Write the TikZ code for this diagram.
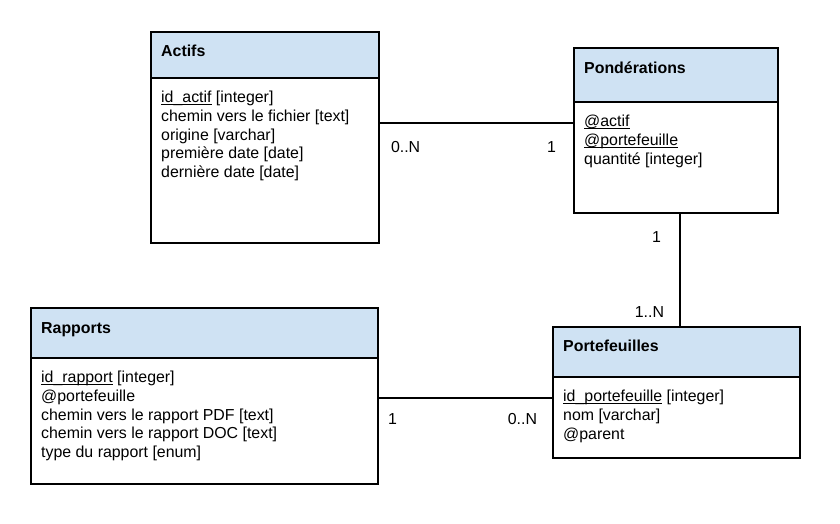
\documentclass[tikz,border=0pt]{standalone}
\usepackage{fontspec}
\setmainfont{Liberation Sans}
\usepackage{tikz}
\usetikzlibrary{positioning,calc}
\definecolor{headblue}{HTML}{CFE2F3}
\newsavebox{\pkbox}
\newcommand{\pk}[1]{%
  \sbox{\pkbox}{#1}%
  \rlap{\rule[-2.6pt]{\wd\pkbox}{1.1pt}}\usebox{\pkbox}%
}
\newcommand{\tablefont}{\fontsize{15.9}{18.9}\selectfont}
\tikzset{
  table head/.style={
    rectangle,
    draw=black,
    fill=headblue,
    line width=2pt,
    inner sep=0pt,
    outer sep=0pt,
    anchor=north west
  }
}
\tikzset{
  table body/.style={
    table head,
    fill=white
  }
}
\tikzset{
  table title/.style={
    anchor=base west,
    inner sep=0pt,
    font=\tablefont\bfseries
  }
}
\tikzset{
  field list/.style={
    anchor=north west,
    align=left,
    inner xsep=10pt,
    inner ysep=12.5pt,
    font=\tablefont
  }
}
\tikzset{
  link/.style={
    draw=black,
    line width=2pt
  }
}
\tikzset{
  cardinality/.style={
    anchor=base west,
    inner sep=0pt,
    font=\tablefont
  }
}

\begin{document}
\begin{tikzpicture}[x=1pt,y=-1pt]

    \useasboundingbox (0,0) rectangle (840,524);

    % ------------------------------------------------------------
    % Tables
    % ------------------------------------------------------------

    \node[table head, minimum width=228pt, minimum height=46pt] (actifs) at (151,32) {};
    \node[table body, minimum width=228pt, minimum height=165pt] (actifsB) at (actifs.south west) {};
    \node[table title] (actifsT) at ([xshift=10pt,yshift=-25pt]actifs.north west) {Actifs};
    \node[field list] (actifsF) at (actifsB.north west)
    {
      \pk{id\_actif} [integer]\\
      chemin vers le fichier [text]\\
      origine [varchar]\\
      première date [date]\\
      dernière date [date]
    };

    \node[table head, minimum width=204pt, minimum height=54pt] (ponder) at (574,48) {};
    \node[table body, minimum width=204pt, minimum height=111pt] (ponderB) at (ponder.south west) {};
    \node[table title] (ponderT) at ([xshift=10pt,yshift=-26pt]ponder.north west) {Pondérations};
    \node[field list] (ponderF) at (ponderB.north west)
    {
      \pk{@actif}\\
      \pk{@portefeuille}\\
      quantité [integer]
    };

    \node[table head, minimum width=347pt, minimum height=50pt] (rapports) at (31,308) {};
    \node[table body, minimum width=347pt, minimum height=126pt] (rapportsB) at (rapports.south west) {};
    \node[table title] (rapportsT) at ([xshift=10pt,yshift=-25pt]rapports.north west) {Rapports};
    \node[field list] (rapportsF) at (rapportsB.north west)
    {
      \pk{id\_rapport} [integer]\\
      @portefeuille\\
      chemin vers le rapport PDF [text]\\
      chemin vers le rapport DOC [text]\\
      type du rapport [enum]
    };

    \node[table head, minimum width=247pt, minimum height=50pt] (portef) at (553,327) {};
    \node[table body, minimum width=247pt, minimum height=81pt] (portefB) at (portef.south west) {};
    \node[table title] (portefT) at ([xshift=10pt,yshift=-24pt]portef.north west) {Portefeuilles};
    \node[field list] (portefF) at (portefB.north west)
    {
      \pk{id\_portefeuille} [integer]\\
      nom [varchar]\\
      @parent
    };

    % ------------------------------------------------------------
    % Links
    % ------------------------------------------------------------

    \coordinate (ponderK) at ([yshift=-21pt]ponderB.north west);
    \coordinate (portefK) at ([yshift=-21pt]portefB.north west);
    \coordinate (ponderS) at ([xshift=4pt]ponderB.south);

    \draw[link]
      (actifsB.east |- ponderK)
      node[cardinality, xshift=11pt, yshift=-30pt] (cardA) {0..N}
      --
      (ponderK)
      node[cardinality, anchor=base east, xshift=-17pt, yshift=-30pt] (cardP) {1};

    \draw[link]
      (ponderS)
      node[cardinality, anchor=base east, xshift=-18pt, yshift=-29pt] (cardPB) {1}
      --
      (ponderS |- portef.north)
      node[cardinality, anchor=base east, xshift=-15pt, yshift=10pt] (cardF) {1..N};

    \draw[link]
      (rapportsB.east |- portefK)
      node[cardinality, xshift=9pt, yshift=-26pt] (cardR) {1}
      --
      (portefK)
      node[cardinality, anchor=base east, xshift=-15pt, yshift=-26pt] (cardFR) {0..N};

\end{tikzpicture}
\end{document}
